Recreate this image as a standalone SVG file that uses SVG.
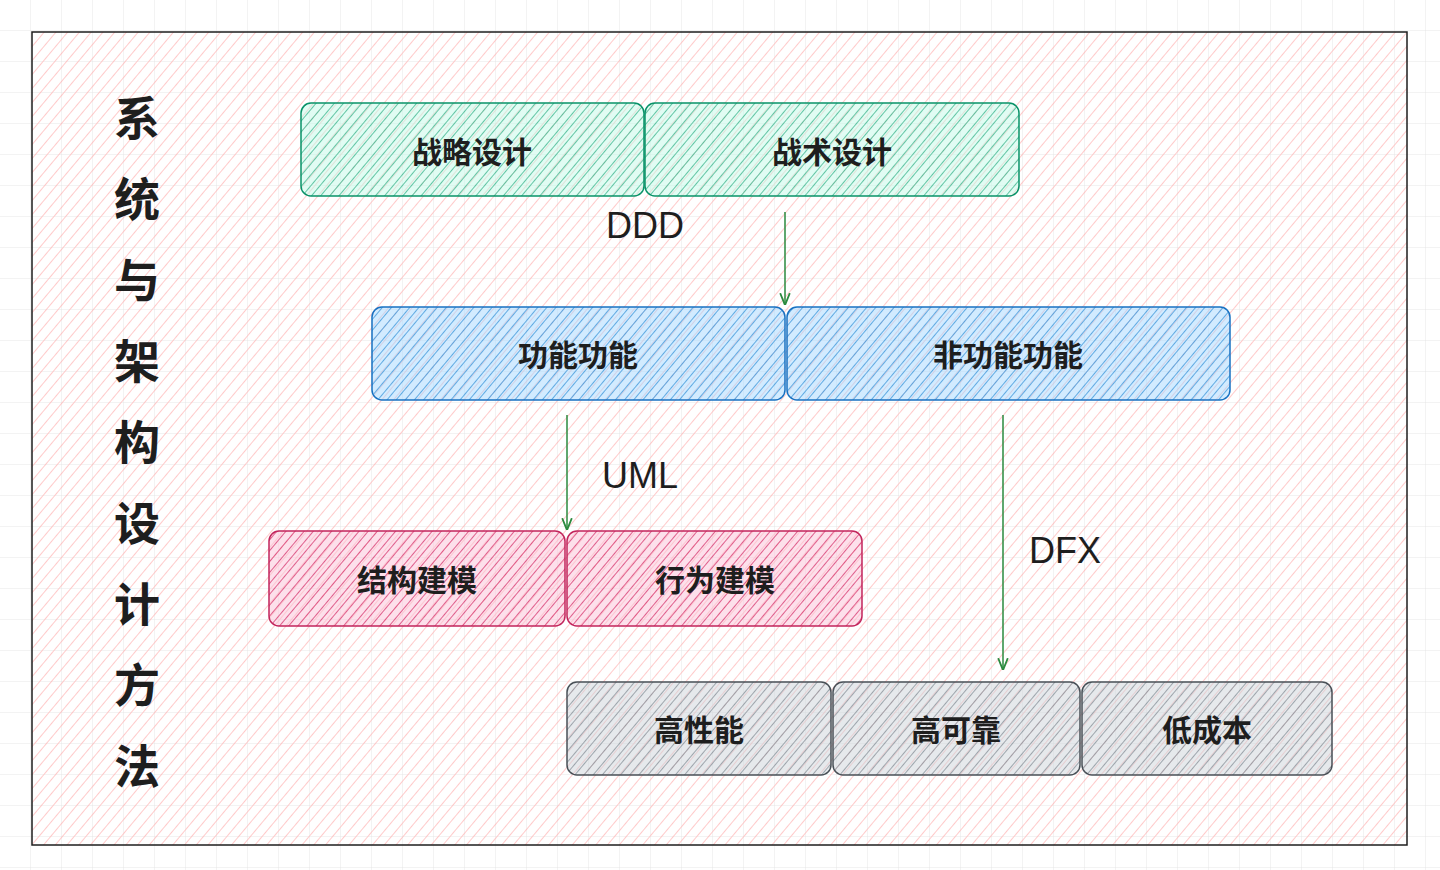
<svg xmlns="http://www.w3.org/2000/svg" width="1440" height="870" viewBox="0 0 1440 870">
<style>
.t{font-family:"Noto Sans CJK SC",sans-serif;font-size:30px;font-weight:bold;fill:#1e1e1e;text-anchor:middle;dominant-baseline:central}
.l{font-family:"Liberation Sans",sans-serif;font-size:36px;fill:#1e1e1e;text-anchor:middle;dominant-baseline:central}
.v{font-family:"Noto Sans CJK SC",sans-serif;font-size:46px;font-weight:bold;fill:#1e1e1e;text-anchor:middle;dominant-baseline:central}
.c{stroke:#2b8a3e;stroke-width:1.5;fill:none;marker-end:url(#ah)}
</style>
<defs>
<pattern id="grid" width="31" height="31" patternUnits="userSpaceOnUse"><path d="M31 0V31H0" fill="none" stroke="#e6e6e6" stroke-width="1"/></pattern>
<pattern id="hp" width="9" height="9" patternUnits="userSpaceOnUse" patternTransform="rotate(40)"><line x1="0" y1="0" x2="0" y2="9" stroke="#ffb8b8" stroke-width="1.5"/></pattern>
<pattern id="hg" width="7" height="7" patternUnits="userSpaceOnUse" patternTransform="rotate(40)"><rect width="7" height="7" fill="#c3fae8" opacity=".5"/><line x1="0" y1="0" x2="0" y2="7" stroke="#38b28a" stroke-width="1.5"/></pattern>
<pattern id="hb" width="7" height="7" patternUnits="userSpaceOnUse" patternTransform="rotate(40)"><rect width="7" height="7" fill="#a5d8ff" opacity=".5"/><line x1="0" y1="0" x2="0" y2="7" stroke="#3a94d8" stroke-width="1.5"/></pattern>
<pattern id="hm" width="7" height="7" patternUnits="userSpaceOnUse" patternTransform="rotate(40)"><rect width="7" height="7" fill="#fcc2d7" opacity=".5"/><line x1="0" y1="0" x2="0" y2="7" stroke="#d6336c" stroke-width="1.5"/></pattern>
<pattern id="hk" width="7" height="7" patternUnits="userSpaceOnUse" patternTransform="rotate(40)"><rect width="7" height="7" fill="#ced4da" opacity=".5"/><line x1="0" y1="0" x2="0" y2="7" stroke="#868e96" stroke-width="1.5"/></pattern>
<marker id="ah" viewBox="0 0 10 10" refX="9" refY="5" markerWidth="8" markerHeight="8" orient="auto"><path d="M0 1L10 5L0 9" fill="none" stroke="#2b8a3e" stroke-width="1.5"/></marker>
</defs>
<rect width="1440" height="870" fill="#fff"/>
<rect width="1440" height="870" fill="url(#grid)"/>
<g id="frame"><rect x="32" y="32" width="1375" height="813" fill="url(#hp)" stroke="#1e1e1e" stroke-width="1.5"/></g>
<g id="title">
<text class="v" x="137" y="115">系</text><text class="v" x="137" y="196">统</text><text class="v" x="137" y="277">与</text><text class="v" x="137" y="358">架</text><text class="v" x="137" y="439">构</text><text class="v" x="137" y="520">设</text><text class="v" x="137" y="601">计</text><text class="v" x="137" y="682">方</text><text class="v" x="137" y="763">法</text>
</g>
<g id="n1"><rect x="301" y="103" width="343" height="93" rx="10" fill="url(#hg)" stroke="#099268" stroke-width="1.5"/><text class="t" x="472" y="150">战略设计</text></g>
<g id="n2"><rect x="645" y="103" width="374" height="93" rx="10" fill="url(#hg)" stroke="#099268" stroke-width="1.5"/><text class="t" x="832" y="150">战术设计</text></g>
<g id="n3"><rect x="372" y="307" width="413" height="93" rx="10" fill="url(#hb)" stroke="#1971c2" stroke-width="1.5"/><text class="t" x="578" y="353">功能功能</text></g>
<g id="n4"><rect x="787" y="307" width="443" height="93" rx="10" fill="url(#hb)" stroke="#1971c2" stroke-width="1.5"/><text class="t" x="1008" y="353">非功能功能</text></g>
<g id="n5"><rect x="269" y="531" width="296" height="95" rx="10" fill="url(#hm)" stroke="#c2255c" stroke-width="1.5"/><text class="t" x="417" y="578">结构建模</text></g>
<g id="n6"><rect x="567" y="531" width="295" height="95" rx="10" fill="url(#hm)" stroke="#c2255c" stroke-width="1.5"/><text class="t" x="715" y="578">行为建模</text></g>
<g id="n7"><rect x="567" y="682" width="264" height="93" rx="10" fill="url(#hk)" stroke="#495057" stroke-width="1.5"/><text class="t" x="699" y="728">高性能</text></g>
<g id="n8"><rect x="833" y="682" width="247" height="93" rx="10" fill="url(#hk)" stroke="#495057" stroke-width="1.5"/><text class="t" x="956" y="728">高可靠</text></g>
<g id="n9"><rect x="1082" y="682" width="250" height="93" rx="10" fill="url(#hk)" stroke="#495057" stroke-width="1.5"/><text class="t" x="1207" y="728">低成本</text></g>
<g id="connectors">
<path class="c" d="M785 212L785 304"/>
<path class="c" d="M567 415L567 529"/>
<path class="c" d="M1003 415L1003 669"/>
<text class="l" x="645" y="225">DDD</text>
<text class="l" x="640" y="475">UML</text>
<text class="l" x="1065" y="550">DFX</text>
</g>
</svg>
